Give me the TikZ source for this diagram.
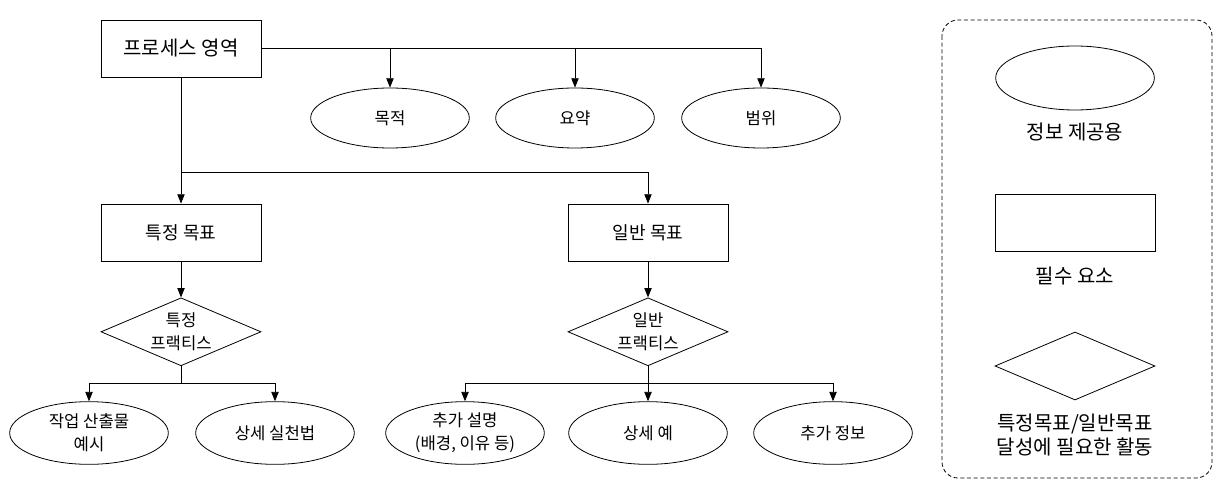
\documentclass[tikz,border=0pt]{standalone}
\usepackage{fontspec}
\setmainfont{Noto Sans CJK KR}
\usetikzlibrary{shapes.geometric, arrows.meta, positioning, calc}
\tikzstyle{goal} = [rectangle, minimum width=120pt, minimum height=42.75pt, text centered, draw=black, font=\fontsize{13.5pt}{16pt}\selectfont]
\tikzstyle{info} = [ellipse, minimum width=119pt, minimum height=47pt, inner sep=0pt, align=center, draw=black, font=\fontsize{12.5pt}{17pt}\selectfont]
\tikzstyle{practice} = [diamond, minimum width=120pt, minimum height=51pt, shape aspect=2.35, inner sep=0pt, align=center, draw=black, font=\fontsize{12.5pt}{17pt}\selectfont]
\tikzstyle{note} = [align=center, font=\fontsize{15pt}{18pt}\selectfont]
\tikzstyle{arrow} = [-{Triangle[length=7pt,width=5.5pt]}]

\begin{document}
\begin{tikzpicture}[x=0.75pt, y=-0.75pt, line width=0.6pt]
            \useasboundingbox (0,0) rectangle (1226,495);
            \node (area) [goal, font=\fontsize{15pt}{16pt}\selectfont] at (181,48.5) {프로세스 영역};
            \node (purpose) [info, minimum height=45pt] at (390,118) {목적};
            \node (summary) [info, minimum height=45pt] at (575,118) {요약};
            \node (scope) [info, minimum height=45pt] at (761,118) {범위};

            \node (sg) [goal] at (181,232.5) {특정 목표};
            \node (gg) [goal] at (648,232.5) {일반 목표};
            \node (sp) [practice, below=27pt of sg] {특정\\프랙티스};
            \node (gp) [practice, below=27pt of gg] {일반\\프랙티스};

            \node (work) [info] at (89,433) {작업 산출물\\예시};
            \node (subpr) [info] at (275,433) {상세 실천법};
            \node (elab) [info] at (465,433) {추가 설명\\(배경, 이유 등)};
            \node (example) [info] at (648,433) {상세 예};
            \node (more) [info] at (833,433) {추가 정보};

            \coordinate (fork1) at (181,172);
            \coordinate (fork2) at (181,383);
            \coordinate (fork3) at (648,383);

            \draw [arrow] (area.east) -| (scope.north);
            \draw [arrow] (area.east -| purpose.north) -- (purpose.north);
            \draw [arrow] (area.east -| summary.north) -- (summary.north);
            \draw [arrow] (area.south) -- (sg.north);
            \draw [arrow] (fork1) -| (gg.north);
            \draw [arrow] (sg) -- (sp);
            \draw [arrow] (gg) -- (gp);
            \draw [arrow] (sp.south) -- (fork2) -| (work.north);
            \draw [arrow] (fork2) -| (subpr.north);
            \draw [arrow] (gp.south) -- (example.north);
            \draw [arrow] (fork3) -| (elab.north);
            \draw [arrow] (fork3) -| (more.north);

            % legend
            \draw [dash pattern=on 3pt off 2pt, rounded corners=12pt] (942,20) rectangle (1212,478);
            \node (keyinfo) [info, minimum height=48pt] at (1075,78) {};
            \node (keyinfotxt) [note] at (1075,132) {정보 제공용};
            \node (keygoal) [goal] at (1075,222.5) {};
            \node (keygoaltxt) [note] at (1075,276) {필수 요소};
            \node (keyprac) [practice] at (1075,366) {};
            \node (keypractxt) [note] at (1075,435) {특정목표/일반목표\\달성에 필요한 활동};
        \end{tikzpicture}
\end{document}
